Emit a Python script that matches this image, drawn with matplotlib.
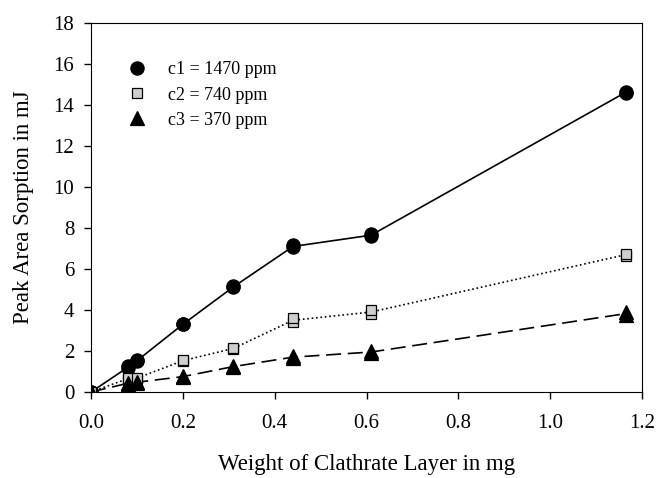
import numpy as np
import matplotlib.pyplot as plt

plt.rcParams["font.family"] = ["Liberation Serif", "DejaVu Serif"]

# weight of clathrate layer (mg)
weight = [0.0, 0.08, 0.1, 0.2, 0.31, 0.44, 0.61, 1.165]

# two readings per point (replicates), line goes through their mean
c1_a = [0.0, 1.15, 1.5, 3.3, 5.1, 7.05, 7.6, 14.6]
c1_b = [0.0, 1.25, 1.55, 3.3, 5.15, 7.15, 7.7, 14.65]
c2_a = [0.0, 0.6, 0.65, 1.5, 2.1, 3.4, 3.8, 6.65]
c2_b = [0.0, 0.7, 0.7, 1.55, 2.15, 3.6, 4.0, 6.75]
c3_a = [0.0, 0.4, 0.45, 0.72, 1.2, 1.65, 1.9, 3.75]
c3_b = [0.0, 0.45, 0.5, 0.78, 1.28, 1.75, 2.0, 3.9]

labels = ["c1 = 1470 ppm", "c2 = 740 ppm", "c3 = 370 ppm"]

fig = plt.figure(figsize=(6.58, 4.78), dpi=100)
ax = fig.add_axes([91 / 658, 1 - 392 / 478, 551 / 658, 369 / 478])

series = [
    (c1_a, c1_b, "-", "o", "black", 9.5),
    (c2_a, c2_b, ":", "s", "#cfcfcf", 7.5),
    (c3_a, c3_b, (0, (9, 4)), "^", "black", 9.5),
]

for (ya, yb, ls, mk, fc, ms), lab in zip(series, labels):
    mean = (np.array(ya) + np.array(yb)) / 2
    ax.plot(weight, mean, linestyle=ls, color="black", lw=1.2, zorder=2)
    ax.plot(weight, ya, linestyle="none", marker=mk, ms=ms, mfc=fc,
            mec="black", mew=0.9, zorder=3, label=lab)
    ax.plot(weight, yb, linestyle="none", marker=mk, ms=ms, mfc=fc,
            mec="black", mew=0.9, zorder=3)

ax.set_xlim(0, 1.2)
ax.set_ylim(0, 18)
ax.set_xticks(np.arange(0, 1.21, 0.2))
ax.set_xticklabels([f"{v:.1f}" for v in np.arange(0, 1.21, 0.2)])
ax.set_yticks(range(0, 19, 2))
ax.tick_params(direction="out", length=5, labelsize=15, width=1)
ax.tick_params(axis="x", pad=11)
ax.tick_params(axis="y", pad=7)

ax.set_xlabel("Weight of Clathrate Layer in mg", fontsize=16.5, labelpad=15)
ax.set_ylabel("Peak Area Sorption in mJ", fontsize=16.5, labelpad=14)

ax.legend(loc="upper left", frameon=False, fontsize=13,
          bbox_to_anchor=(0.022, 0.94), handletextpad=0.7, labelspacing=0.45)

plt.savefig("out.png", dpi=100)
